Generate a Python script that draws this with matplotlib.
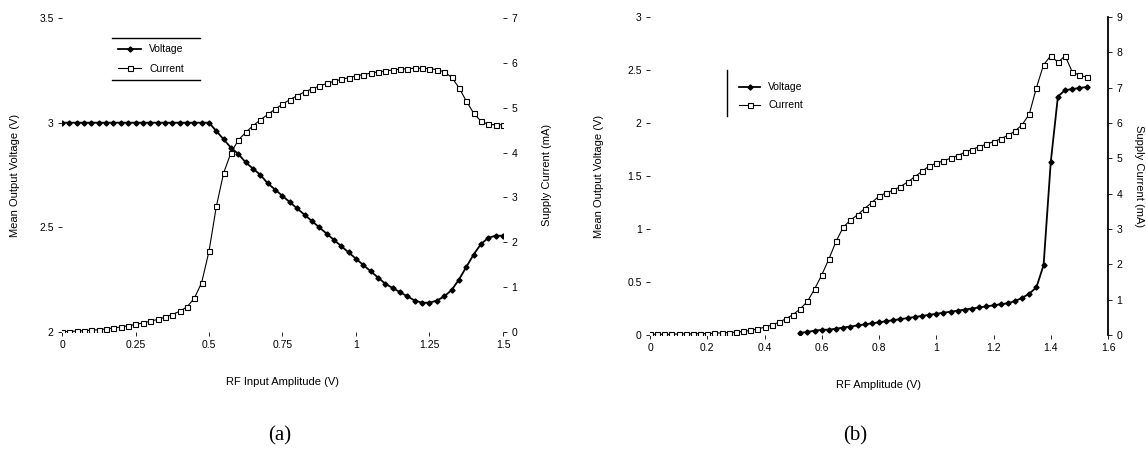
import matplotlib
matplotlib.use("Agg")
import matplotlib.pyplot as plt
from matplotlib.ticker import FuncFormatter
from matplotlib.lines import Line2D

plt.rcParams['font.family'] = ['Liberation Sans', 'DejaVu Sans']

# ---------------- (a) sweep of RF input amplitude ----------------
a_amp = [0.0, 0.025, 0.05, 0.075, 0.1, 0.125, 0.15, 0.175, 0.2, 0.225,
         0.25, 0.275, 0.3, 0.325, 0.35, 0.375, 0.4, 0.425, 0.45, 0.475,
         0.5, 0.525, 0.55, 0.575, 0.6, 0.625, 0.65, 0.675, 0.7, 0.725,
         0.75, 0.775, 0.8, 0.825, 0.85, 0.875, 0.9, 0.925, 0.95, 0.975,
         1.0, 1.025, 1.05, 1.075, 1.1, 1.125, 1.15, 1.175, 1.2, 1.225,
         1.25, 1.275, 1.3, 1.325, 1.35, 1.375, 1.4, 1.425, 1.45, 1.475, 1.5]
a_voltage = [3.0, 3.0, 3.0, 3.0, 3.0, 3.0, 3.0, 3.0, 3.0, 3.0,
             3.0, 3.0, 3.0, 3.0, 3.0, 3.0, 3.0, 3.0, 3.0, 3.0,
             3.0, 2.96, 2.92, 2.88, 2.85, 2.81, 2.78, 2.75, 2.71, 2.68,
             2.65, 2.62, 2.59, 2.56, 2.53, 2.50, 2.47, 2.44, 2.41, 2.38,
             2.35, 2.32, 2.29, 2.26, 2.23, 2.21, 2.19, 2.17, 2.15, 2.14,
             2.14, 2.15, 2.17, 2.20, 2.25, 2.31, 2.37, 2.42, 2.45, 2.46, 2.46]
a_current = [0.0, 0.01, 0.02, 0.03, 0.04, 0.05, 0.07, 0.09, 0.11, 0.14,
             0.17, 0.20, 0.24, 0.28, 0.33, 0.39, 0.46, 0.56, 0.75, 1.1,
             1.8, 2.8, 3.55, 4.0, 4.28, 4.45, 4.6, 4.73, 4.85, 4.97,
             5.08, 5.18, 5.27, 5.35, 5.42, 5.48, 5.54, 5.59, 5.63, 5.67,
             5.71, 5.74, 5.77, 5.80, 5.82, 5.84, 5.86, 5.87, 5.88, 5.88,
             5.87, 5.85, 5.80, 5.68, 5.45, 5.15, 4.88, 4.70, 4.63, 4.62, 4.62]

# ---------------- (b) sweep of RF amplitude ----------------
b_amp_current = [0.0, 0.025, 0.05, 0.075, 0.1, 0.125, 0.15, 0.175, 0.2, 0.225,
                 0.25, 0.275, 0.3, 0.325, 0.35, 0.375, 0.4, 0.425, 0.45, 0.475,
                 0.5, 0.525, 0.55, 0.575, 0.6, 0.625, 0.65, 0.675, 0.7, 0.725,
                 0.75, 0.775, 0.8, 0.825, 0.85, 0.875, 0.9, 0.925, 0.95, 0.975,
                 1.0, 1.025, 1.05, 1.075, 1.1, 1.125, 1.15, 1.175, 1.2, 1.225,
                 1.25, 1.275, 1.3, 1.325, 1.35, 1.375, 1.4, 1.425, 1.45, 1.475,
                 1.5, 1.525]
b_current = [0.02, 0.02, 0.02, 0.02, 0.03, 0.03, 0.03, 0.04, 0.04, 0.05,
             0.06, 0.07, 0.08, 0.10, 0.13, 0.17, 0.22, 0.28, 0.36, 0.46,
             0.58, 0.74, 0.95, 1.3, 1.7, 2.15, 2.65, 3.05, 3.25, 3.4,
             3.58, 3.75, 3.93, 4.02, 4.10, 4.20, 4.33, 4.48, 4.63, 4.78,
             4.86, 4.93, 5.0, 5.08, 5.17, 5.25, 5.33, 5.40, 5.47, 5.55,
             5.65, 5.77, 5.95, 6.25, 7.0, 7.65, 7.9, 7.72, 7.9, 7.45,
             7.35, 7.3]
b_amp_voltage = [0.525, 0.55, 0.575, 0.6, 0.625, 0.65, 0.675, 0.7, 0.725, 0.75,
                 0.775, 0.8, 0.825, 0.85, 0.875, 0.9, 0.925, 0.95, 0.975, 1.0,
                 1.025, 1.05, 1.075, 1.1, 1.125, 1.15, 1.175, 1.2, 1.225, 1.25,
                 1.275, 1.3, 1.325, 1.35, 1.375, 1.4, 1.425, 1.45, 1.475, 1.5,
                 1.525]
b_voltage = [0.02, 0.03, 0.04, 0.05, 0.05, 0.06, 0.07, 0.08, 0.09, 0.10,
             0.11, 0.12, 0.13, 0.14, 0.15, 0.16, 0.17, 0.18, 0.19, 0.20,
             0.21, 0.22, 0.23, 0.24, 0.25, 0.26, 0.27, 0.28, 0.29, 0.30,
             0.32, 0.35, 0.39, 0.45, 0.66, 1.63, 2.25, 2.31, 2.32, 2.33,
             2.34]

a_xticks = [0, 0.25, 0.5, 0.75, 1, 1.25, 1.5]
a_vticks = [2, 2.5, 3, 3.5]
a_iticks = [0, 1, 2, 3, 4, 5, 6, 7]
b_xticks = [0, 0.2, 0.4, 0.6, 0.8, 1, 1.2, 1.4, 1.6]
b_vticks = [0, 0.5, 1, 1.5, 2, 2.5, 3]
b_iticks = [0, 1, 2, 3, 4, 5, 6, 7, 8, 9]

W, H = 1146, 451
fig = plt.figure(figsize=(W / 100, H / 100), dpi=100)
fig.patch.set_facecolor('white')

fmt = FuncFormatter(lambda v, p: '%g' % v)
FS = 7.5


def style(ax, visible_spines=()):
    for name, sp in ax.spines.items():
        sp.set_visible(name in visible_spines)
    ax.tick_params(direction='out', length=3, width=0.6, labelsize=FS,
                   colors='black', pad=3)
    ax.patch.set_alpha(0)


def add_series(axv, axi, xv, v, xi, i):
    lv, = axv.plot(xv, v, color='black', lw=1.3, marker='D', ms=2.6,
                   mfc='black', mec='black', label='Voltage', zorder=3)
    li, = axi.plot(xi, i, color='black', lw=0.8, marker='s', ms=3.6,
                   mfc='white', mec='black', mew=0.8, label='Current', zorder=3)
    return lv, li


# ---- panel (a) ----
ax1 = fig.add_axes([62 / W, 1 - 332 / H, (503 - 62) / W, (332 - 18) / H])
ax1r = ax1.twinx()
lv, li = add_series(ax1, ax1r, a_amp, a_voltage, a_amp, a_current)
ax1.set_xlim(0, 1.5)
ax1.set_ylim(2, 3.5)
ax1r.set_ylim(0, 7)
ax1.set_xticks(a_xticks)
ax1.set_yticks(a_vticks)
ax1r.set_yticks(a_iticks)
for a in (ax1, ax1r):
    a.xaxis.set_major_formatter(fmt)
    a.yaxis.set_major_formatter(fmt)
style(ax1)
style(ax1r)
ax1.set_xlabel('RF Input Amplitude (V)', fontsize=FS + 0.5, labelpad=19)
ax1.set_ylabel('Mean Output Voltage (V)', fontsize=FS + 0.5, labelpad=14)
ax1r.set_ylabel('Supply Current (mA)', fontsize=FS + 0.5, rotation=90, labelpad=18)

ax1.legend(handles=[lv, li], loc='upper left',
           bbox_to_anchor=((114 - 62) / 441, (332 - 40) / 314),
           frameon=False, fontsize=FS, handlelength=2.2,
           borderaxespad=0, labelspacing=0.9)
for yy in ((332 - 38) / 314, (332 - 80) / 314):
    ax1.add_line(Line2D([(112 - 62) / 441, (200 - 62) / 441], [yy, yy],
                        transform=ax1.transAxes, color='black', lw=1.0,
                        clip_on=False))

# ---- panel (b) ----
ax2 = fig.add_axes([650 / W, 1 - 335 / H, (1108 - 650) / W, (335 - 17) / H])
ax2r = ax2.twinx()
lv2, li2 = add_series(ax2, ax2r, b_amp_voltage, b_voltage, b_amp_current, b_current)
ax2.set_xlim(0, 1.6)
ax2.set_ylim(0, 3)
ax2r.set_ylim(0, 9)
ax2.set_xticks(b_xticks)
ax2.set_yticks(b_vticks)
ax2r.set_yticks(b_iticks)
for a in (ax2, ax2r):
    a.xaxis.set_major_formatter(fmt)
    a.yaxis.set_major_formatter(fmt)
style(ax2)
style(ax2r, visible_spines=('right',))
ax2r.spines['right'].set_linewidth(1.3)
ax2.set_xlabel('RF Amplitude (V)', fontsize=FS + 0.5, labelpad=19)
ax2.set_ylabel('Mean Output Voltage (V)', fontsize=FS + 0.5, labelpad=17)
ax2r.set_ylabel('Supply Current (mA)', fontsize=FS + 0.5, rotation=-90, labelpad=16)

ax2.legend(handles=[lv2, li2], loc='upper left',
           bbox_to_anchor=((735 - 650) / 458, (335 - 78) / 318),
           frameon=False, fontsize=FS, handlelength=2.0,
           borderaxespad=0, labelspacing=0.8)
ax2.add_line(Line2D([(727 - 650) / 458] * 2, [(335 - 70) / 318, (335 - 116) / 318],
                    transform=ax2.transAxes, color='black', lw=1.0, clip_on=False))

# ---- captions ----
fig.text(280 / W, 1 - 436 / H, '(a)', family=['Liberation Serif', 'DejaVu Serif'],
         fontsize=15, ha='center', va='center')
fig.text(855 / W, 1 - 436 / H, '(b)', family=['Liberation Serif', 'DejaVu Serif'],
         fontsize=15, ha='center', va='center')

fig.savefig('out.png', dpi=100, facecolor='white')
